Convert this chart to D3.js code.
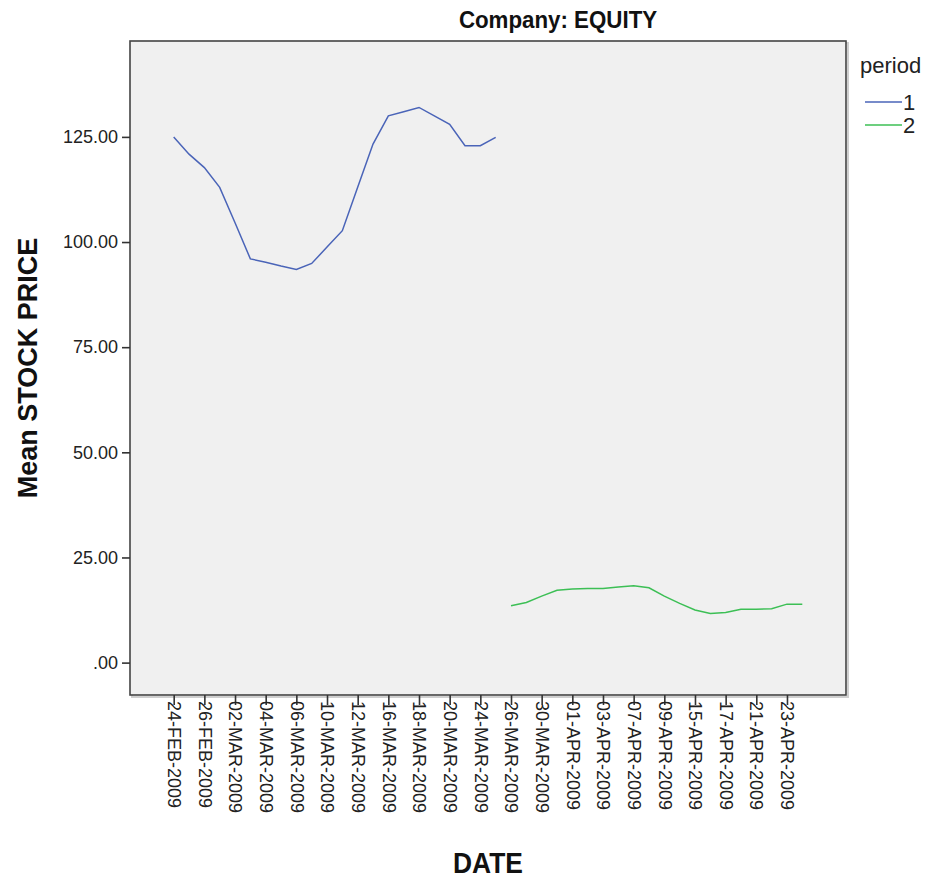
<!DOCTYPE html>
<html>
<head>
<meta charset="utf-8">
<script src="https://cdn.jsdelivr.net/npm/d3@7"></script>
<style>
  body { margin: 0; background: #fff; }
  .tick text { font-family: "Liberation Sans", Arial, sans-serif; }
</style>
</head>
<body>
<svg id="chart" width="927" height="880"></svg>
<script>
// trading days on the x axis, every other one gets a label
var dates = ["24-FEB-2009","25-FEB-2009","26-FEB-2009","27-FEB-2009","02-MAR-2009","03-MAR-2009",
  "04-MAR-2009","05-MAR-2009","06-MAR-2009","09-MAR-2009","10-MAR-2009","11-MAR-2009","12-MAR-2009",
  "13-MAR-2009","16-MAR-2009","17-MAR-2009","18-MAR-2009","19-MAR-2009","20-MAR-2009","23-MAR-2009",
  "24-MAR-2009","25-MAR-2009","26-MAR-2009","27-MAR-2009","30-MAR-2009","31-MAR-2009","01-APR-2009",
  "02-APR-2009","03-APR-2009","06-APR-2009","07-APR-2009","08-APR-2009","09-APR-2009","13-APR-2009",
  "15-APR-2009","16-APR-2009","17-APR-2009","20-APR-2009","21-APR-2009","22-APR-2009","23-APR-2009",
  "24-APR-2009"];

var period1_dates = dates.slice(0, 22);
var period1_values = [125.0, 120.9, 117.7, 113.0, 104.6, 96.0, 95.2, 94.3, 93.5, 94.9, 98.8, 102.7,
  113.0, 123.3, 130.0, 131.0, 132.0, 130.0, 128.0, 122.9, 122.9, 124.9];

var period2_dates = dates.slice(22);
var period2_values = [13.5, 14.3, 15.8, 17.2, 17.5, 17.6, 17.6, 18.0, 18.3, 17.8, 15.8, 14.1,
  12.5, 11.7, 11.9, 12.7, 12.7, 12.8, 13.9, 13.9];

var yTicks = [0, 25, 50, 75, 100, 125];
var periods = ["1", "2"];
var colors = ["#4a64b8", "#3cbf55"];

var svg = d3.select("#chart");
var pLeft = 130, pRight = 846, pTop = 41, pBottom = 695;

var x = d3.scalePoint().domain(dates).range([pLeft, pRight]).padding(2.85);
var y = d3.scaleLinear().domain([-7.7, 147.8]).range([pBottom, pTop]);

// plot background + soft shadow
svg.append("rect")
  .attr("x", pLeft + 2).attr("y", pTop + 2)
  .attr("width", pRight - pLeft).attr("height", pBottom - pTop)
  .style("fill", "none").style("stroke", "#cfcfcf").style("stroke-width", 2);
svg.append("rect")
  .attr("x", pLeft).attr("y", pTop)
  .attr("width", pRight - pLeft).attr("height", pBottom - pTop)
  .style("fill", "#f0f0f0").style("stroke", "#444").style("stroke-width", 1.6);

// y axis
var fmt = function(d){ var s = d3.format(".2f")(d); return s.replace(/^0\./, "."); };
var yAxis = d3.axisLeft(y).tickValues(yTicks).tickFormat(fmt).tickSize(8).tickPadding(4);
var gy = svg.append("g").attr("transform", "translate(" + pLeft + ",0)").call(yAxis);
gy.select(".domain").remove();
gy.selectAll("line").style("stroke", "#333").style("stroke-width", 1.6);
gy.selectAll("text").style("font-size", "18px").style("fill", "#222");

// x axis, labels on every other day
var xLabelled = dates.filter(function(d, i){ return i % 2 == 0; });
var xAxis = d3.axisBottom(x).tickValues(xLabelled).tickSize(10).tickPadding(0);
var gx = svg.append("g").attr("transform", "translate(0," + pBottom + ")").call(xAxis);
gx.select(".domain").remove();
gx.selectAll("line").style("stroke", "#333").style("stroke-width", 1.6);
gx.selectAll("text")
  .attr("transform", "rotate(90)")
  .attr("x", 6).attr("y", 0).attr("dy", "0.35em")
  .style("text-anchor", "start")
  .style("font-size", "18px").style("fill", "#222");

// lines
var line = d3.line().x(function(d){ return x(d[0]); }).y(function(d){ return y(d[1]); });
var series = [d3.zip(period1_dates, period1_values), d3.zip(period2_dates, period2_values)];
svg.selectAll(".series").data(series).enter().append("path")
  .attr("class", "series")
  .attr("d", line)
  .style("fill", "none")
  .style("stroke", function(d, i){ return colors[i]; })
  .style("stroke-width", 1.5);

// titles
svg.append("text")
  .attr("transform", "translate(558,28) scale(0.93,1)")
  .style("text-anchor", "middle")
  .style("font-family", "'Liberation Sans', Arial, sans-serif")
  .style("font-weight", "bold").style("font-size", "24px").style("fill", "#111")
  .text("Company: EQUITY");

svg.append("text")
  .attr("transform", "translate(488,873) scale(0.88,1)")
  .style("text-anchor", "middle")
  .style("font-family", "'Liberation Sans', Arial, sans-serif")
  .style("font-weight", "bold").style("font-size", "30px").style("fill", "#111")
  .text("DATE");

svg.append("text")
  .attr("transform", "translate(37,368) rotate(-90)")
  .style("text-anchor", "middle")
  .style("font-family", "'Liberation Sans', Arial, sans-serif")
  .style("font-weight", "bold").style("font-size", "27px").style("fill", "#111")
  .text("Mean STOCK PRICE");

// legend
var lg = svg.append("g").attr("transform", "translate(860,0)");
lg.append("text").attr("x", 0).attr("y", 73)
  .style("font-family", "'Liberation Sans', Arial, sans-serif")
  .style("font-size", "22px").style("fill", "#222")
  .text("period");
var items = lg.selectAll(".item").data(periods).enter().append("g")
  .attr("class", "item")
  .attr("transform", function(d, i){ return "translate(0," + (102 + i * 23) + ")"; });
items.append("line").attr("x1", 5).attr("x2", 42).attr("y1", 0).attr("y2", 0)
  .style("stroke", function(d, i){ return colors[i]; }).style("stroke-width", 1.5);
items.append("text").attr("x", 43).attr("y", 8)
  .style("font-family", "'Liberation Sans', Arial, sans-serif")
  .style("font-size", "22px").style("fill", "#222")
  .text(function(d){ return d; });
</script>
</body>
</html>
